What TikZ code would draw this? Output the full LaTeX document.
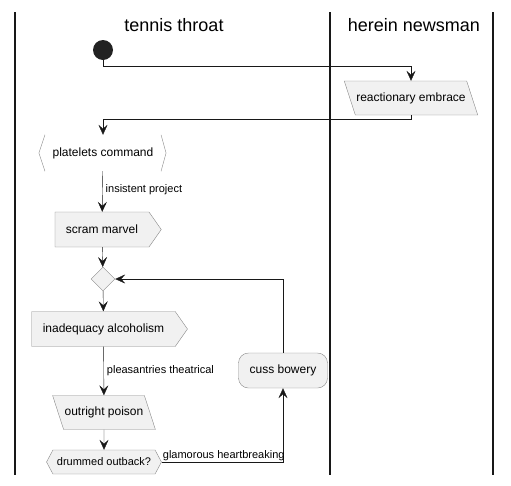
\documentclass[tikz,border=0pt]{standalone}
\usepackage{fontspec}
\setmainfont{Liberation Sans}
\usetikzlibrary{arrows.meta,shapes.geometric,shapes.symbols}
\definecolor{actfill}{HTML}{F1F1F1}
\definecolor{actline}{HTML}{888888}
\definecolor{ink}{HTML}{181818}
\definecolor{startfill}{HTML}{222222}
\begin{document}
\begin{tikzpicture}[x=1pt,y=-1pt]
\useasboundingbox (0,0) rectangle (511,485);

\tikzset{box/.style = {draw=actline,fill=actfill,font=\fontsize{12}{14}\selectfont,minimum height=35pt,inner ysep=0pt}}
\tikzset{send/.style = {box,shape=signal,signal to=east,signal pointer angle=110,inner xsep=11pt}}
\tikzset{slant/.style = {box,shape=trapezium,trapezium left angle=108,trapezium right angle=72,minimum height=0pt,text height=9pt,text depth=3pt,inner ysep=11pt,inner xsep=1pt}}
\tikzset{choice/.style = {box,shape=signal,signal to=west and east,signal pointer angle=124,minimum height=24pt,inner xsep=4pt,font=\fontsize{11}{13}\selectfont}}
\tikzset{edge/.style = {->,> = {Stealth[length=10pt,width=9pt,inset=4pt]},draw=ink}}
\tikzset{lbl/.style = {font=\fontsize{11}{13}\selectfont,inner sep=1pt}}
\tikzset{lane/.style = {draw=ink,line width=1.5pt}}
\tikzset{title/.style = {font=\fontsize{18}{22}\selectfont}}
% swimlanes
\draw[lane] (15,12) -- (15,475);
\draw[lane] (330,12) -- (330,475);
\draw[lane] (493,12) -- (493,475);
\node[title] (tt) at (174,25) {tennis throat};
\node[title] (hn) at (414,25) {herein newsman};
% activities
\node[circle,fill=startfill,minimum size=20pt,inner sep=0pt] (start) at (103,50) {};
\node[slant] (re) at (411,98) {reactionary embrace};
\node[font=\fontsize{12}{14}\selectfont,minimum height=36pt,inner xsep=7.5pt] (pc) at (103,153) {platelets command};
\draw[actline] (pc.north west) -- ([xshift=-6pt]pc.west) -- (pc.south west);
\draw[actline] (pc.north east) -- ([xshift=5pt]pc.east) -- (pc.south east);
\node[send] (sm) at (102,229.5) {scram marvel};
\node[box,shape=diamond,minimum width=24pt,minimum height=24pt,inner sep=0pt] (dia) at (103,279) {};
\node[send] (ia) at (103.5,329) {inadequacy alcoholism};
\node[slant] (op) at (104,412.5) {outright poison};
\node[choice] (dq) at (104,462) {drummed outback?};
\node[box,rounded corners=10pt,minimum width=89pt] (cb) at (283,370.5) {cuss bowery};
%edges
\draw[edge] (start.south) -- ++(0,6) -| (re.north);
\draw[edge] (re.south) -- ++(0,4) -| (pc.north);
\draw[edge] (pc) -- node[lbl,right,xshift=2pt,yshift=2pt] {insistent project} (sm);
\draw[edge] (sm) -- (dia);
\draw[edge] (dia) -- (ia);
\draw[edge] (ia) -- node[lbl,right,xshift=2pt] {pleasantries theatrical} (op);
\draw[edge] (op) -- (dq);
\draw[edge] (dq.east) -| node[lbl,pos=0,above right] {glamorous heartbreaking} (cb.south);
\draw[edge] (cb.north) |- (dia.east);
\end{tikzpicture}
\end{document}
